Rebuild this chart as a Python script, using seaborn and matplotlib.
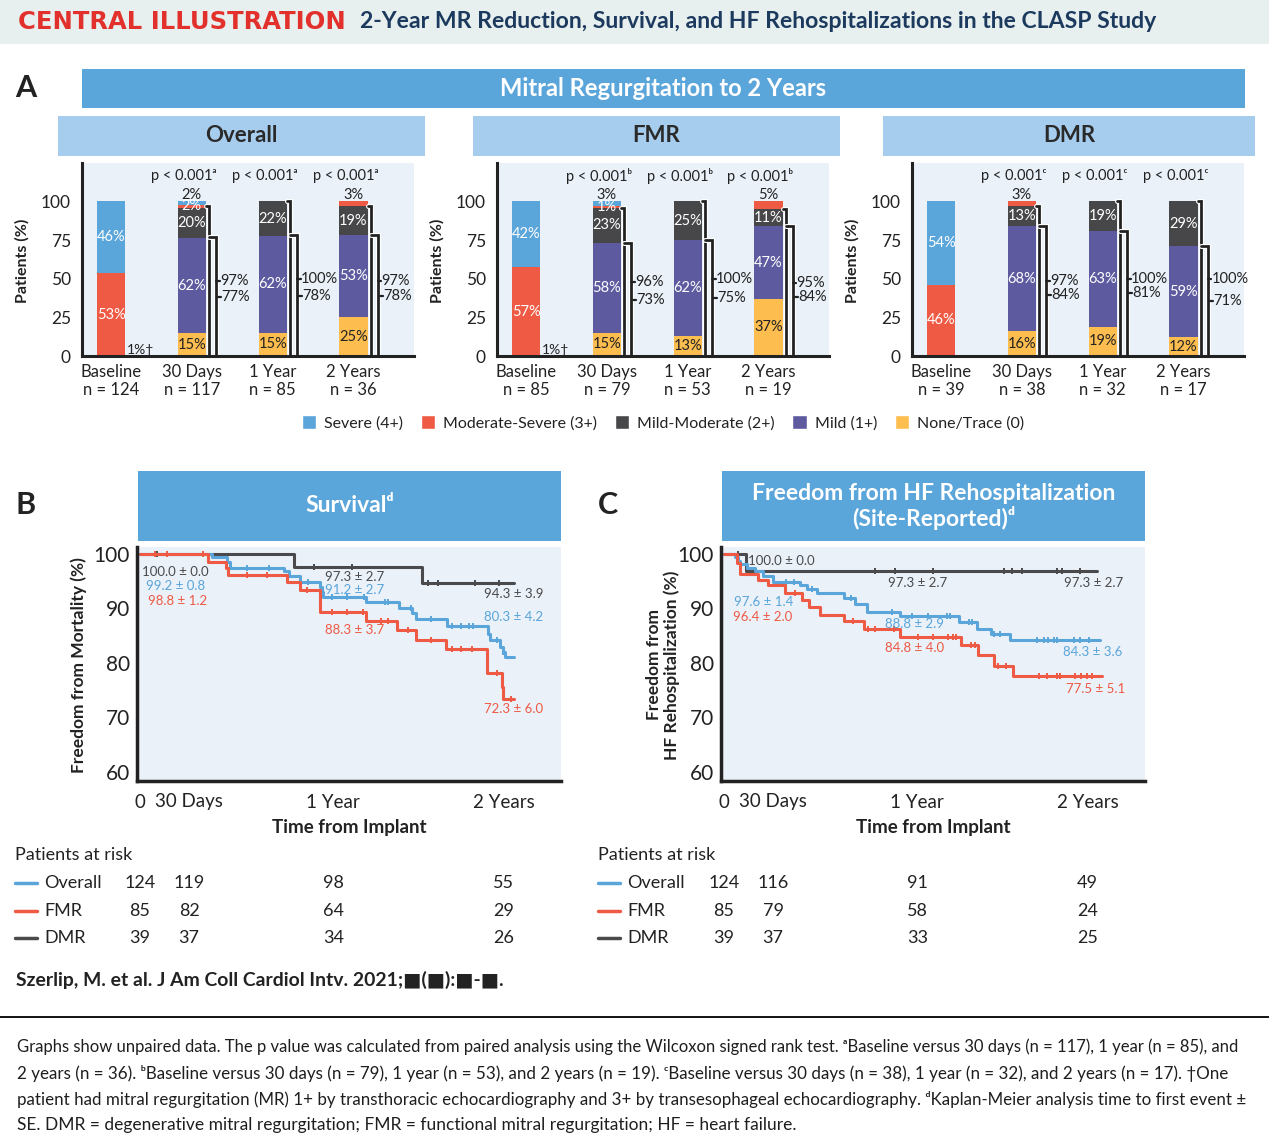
import matplotlib
matplotlib.use("Agg")
import matplotlib.pyplot as plt
import matplotlib.transforms as mtransforms
import matplotlib.patheffects as pe
from matplotlib.patches import Rectangle, Patch
import numpy as np
import seaborn as sns

W, H = 1269, 1140

# ---------------- Panel A: MR grade distribution (%), bottom -> top ----------------
visits = ["Baseline", "30 Days", "1 Year", "2 Years"]
grades = ["None/Trace (0)", "Mild (1+)", "Mild-Moderate (2+)", "Moderate-Severe (3+)", "Severe (4+)"]
grade_colors = ["#fdbd4f", "#5d5a9f", "#47474a", "#ee5a44", "#5aa5da"]

overall_none = [0, 15, 15, 25]
overall_mild = [0, 62, 62, 53]
overall_mildmod = [0, 20, 22, 19]
overall_modsev = [53, 2, 0, 3]
overall_severe = [46, 2, 0, 0]
overall_n = [124, 117, 85, 36]
overall_le2 = [97, 100, 97]
overall_le1 = [77, 78, 78]

fmr_none = [0, 15, 13, 37]
fmr_mild = [0, 58, 62, 47]
fmr_mildmod = [0, 23, 25, 11]
fmr_modsev = [57, 1, 0, 5]
fmr_severe = [42, 3, 0, 0]
fmr_n = [85, 79, 53, 19]
fmr_le2 = [96, 100, 95]
fmr_le1 = [73, 75, 84]

dmr_none = [0, 16, 19, 12]
dmr_mild = [0, 68, 63, 59]
dmr_mildmod = [0, 13, 19, 29]
dmr_modsev = [46, 3, 0, 0]
dmr_severe = [54, 0, 0, 0]
dmr_n = [39, 38, 32, 17]
dmr_le2 = [97, 100, 100]
dmr_le1 = [84, 81, 71]

p_sup = ["ᵃ", "ᵇ", "ᶜ"]
baseline_note = ["1%†", "1%†", ""]

# ---------------- Panels B/C: Kaplan-Meier curves (months, %) ----------------
surv_overall_t = [0, 4.74, 5.73, 5.95, 9.48, 9.81, 10.58, 11.9, 12.0, 12.1, 14.9, 17.1, 17.96, 18.2, 20.3, 23.0, 23.14, 23.8, 24.0, 24.1, 24.7]
surv_overall_v = [100, 99.4, 98.6, 97.4, 96.8, 96.0, 94.8, 94.0, 93.1, 92.2, 91.2, 90.0, 89.2, 88.0, 86.8, 85.4, 84.2, 83.0, 82.0, 81.1, 81.1]
surv_fmr_t = [0, 4.52, 5.66, 5.84, 9.70, 10.58, 11.9, 14.9, 16.97, 18.2, 20.2, 22.9, 23.9, 24.0, 24.7]
surv_fmr_v = [100, 98.6, 97.4, 96.2, 94.8, 93.4, 89.4, 87.7, 86.0, 84.3, 82.5, 78.1, 75.6, 73.3, 73.3]
surv_dmr_t = [0, 10.2, 18.6, 24.7]
surv_dmr_v = [100, 97.6, 94.7, 94.7]

surv_overall_cens = [7.05, 8.5, 11.1, 12.7, 13.7, 14.8, 16.2, 16.4, 17.9, 19.2, 20.6, 21.2, 21.7, 22.0, 23.6, 24.0]
surv_fmr_cens = [0.99, 1.76, 4.19, 7.05, 8.38, 11.0, 12.7, 13.7, 14.7, 15.9, 16.4, 17.7, 19.2, 20.6, 21.2, 21.9, 23.6, 24.5]
surv_dmr_cens = [1.1, 11.5, 14.0, 19.0, 19.7, 22.1, 23.7]

hf_overall_t = [0, 0.73, 0.95, 1.06, 1.5, 2.05, 2.6, 3.26, 5.02, 5.47, 6.13, 7.89, 8.66, 9.43, 11.64, 15.5, 16.7, 17.6, 18.9, 24.86]
hf_overall_v = [100, 99.5, 98.8, 98.2, 97.4, 96.8, 96.0, 94.9, 94.3, 93.5, 92.8, 91.9, 90.9, 89.4, 88.6, 87.6, 86.3, 85.4, 84.3, 84.3]
hf_fmr_t = [0, 0.84, 1.06, 2.27, 2.93, 4.03, 5.14, 5.58, 6.35, 7.93, 9.26, 11.64, 15.65, 16.8, 17.8, 19.1, 24.97]
hf_fmr_v = [100, 98.3, 96.4, 95.3, 94.3, 92.8, 91.5, 90.3, 88.8, 87.7, 86.3, 84.8, 83.3, 81.4, 79.4, 77.6, 77.6]
hf_dmr_t = [0, 1.45, 24.6]
hf_dmr_v = [100, 96.8, 96.8]

hf_overall_cens = [4.1, 4.6, 5.8, 8.4, 11.1, 12.4, 13.5, 14.7, 14.9, 16.2, 16.4, 17.8, 18.2, 20.7, 21.1, 21.4, 21.8, 22.0, 23.1, 23.5, 24.1]
hf_fmr_cens = [4.7, 8.5, 9.5, 10.0, 11.2, 12.8, 13.8, 14.8, 15.1, 15.3, 16.3, 16.6, 18.1, 18.6, 20.8, 21.3, 22.0, 22.2, 23.2, 23.6, 24.0, 24.3]
hf_dmr_cens = [0.95, 10.0, 11.3, 13.8, 18.5, 19.0, 19.7, 22.0, 22.3, 23.5]

km_ticks = [0, 3.24, 12.76, 24]
km_ticklabels = ["0", "30 Days", "1 Year", "2 Years"]

surv_notes = [
    (0.13, 96.7, "100.0 ± 0.0", "dmr"), (0.4, 94.1, "99.2 ± 0.8", "overall"), (0.53, 91.4, "98.8 ± 1.2", "fmr"),
    (12.23, 95.8, "97.3 ± 2.7", "dmr"), (12.23, 93.4, "91.2 ± 2.7", "overall"), (12.23, 86.0, "88.3 ± 3.7", "fmr"),
    (22.74, 92.6, "94.3 ± 3.9", "dmr"), (22.74, 88.4, "80.3 ± 4.2", "overall"), (22.74, 71.5, "72.3 ± 6.0", "fmr"),
]
hf_notes = [
    (1.61, 98.7, "100.0 ± 0.0", "dmr"), (10.8, 94.7, "97.3 ± 2.7", "dmr"), (22.48, 94.7, "97.3 ± 2.7", "dmr"),
    (0.68, 91.2, "97.6 ± 1.4", "overall"), (0.57, 88.4, "96.4 ± 2.0", "fmr"),
    (10.64, 87.1, "88.8 ± 2.9", "overall"), (10.64, 82.7, "84.8 ± 4.0", "fmr"),
    (22.39, 82.0, "84.3 ± 3.6", "overall"), (22.61, 75.2, "77.5 ± 5.1", "fmr"),
]

risk_groups = ["Overall", "FMR", "DMR"]
surv_risk = [[124, 119, 98, 55], [85, 82, 64, 29], [39, 37, 34, 26]]
hf_risk = [[124, 116, 91, 49], [85, 79, 58, 24], [39, 37, 33, 25]]

group_colors = {"overall": "#5aa5da", "fmr": "#ee5a44", "dmr": "#4a4a4c"}
INK = "#222222"
PANEL_BG = "#eaf1f9"

sns.set_theme(style="white")
plt.rcParams["font.family"] = ["Lato", "DejaVu Sans"]
plt.rcParams["text.color"] = INK

fig = plt.figure(figsize=(W / 100, H / 100), dpi=100)
renderer = fig.canvas.get_renderer()


def fx(px):
    return px / W


def fy(py):
    return 1 - py / H


def px_axes(x0, y0, x1, y1):
    return fig.add_axes([x0 / W, 1 - y1 / H, (x1 - x0) / W, (y1 - y0) / H])


def box(x0, y0, x1, y1, color):
    fig.add_artist(Rectangle((x0 / W, 1 - y1 / H), (x1 - x0) / W, (y1 - y0) / H,
                             transform=fig.transFigure, facecolor=color, edgecolor="none", zorder=0))


def fit(t, width):
    w = t.get_window_extent(renderer).width
    t.set_fontsize(t.get_fontsize() * width / w)
    return t


def banner(x0, y0, x1, y1, color, text, tcolor, width, size=15):
    box(x0, y0, x1, y1, color)
    t = fig.text(fx((x0 + x1) / 2), fy((y0 + y1) / 2), text, ha="center", va="center",
                 color=tcolor, weight="bold", fontsize=size, linespacing=1.1)
    if width:
        fit(t, width)
    return t


# header
box(0, 0, W, 44, "#e8f0ef")
fit(fig.text(fx(18), fy(22), "CENTRAL ILLUSTRATION", color="#e2312d", weight="bold", va="center",
             fontsize=14, family=["DejaVu Sans"]), 327)
fit(fig.text(fx(360), fy(22), "2-Year MR Reduction, Survival, and HF Rehospitalizations in the CLASP Study",
             color="#1c3a5e", weight="bold", va="center", fontsize=15), 798)

# ---------------- Panel A ----------------
fig.text(fx(15), fy(88), "A", fontsize=22, weight="bold", va="center")
banner(82, 69, 1245, 108, "#5aa5da", "Mitral Regurgitation to 2 Years", "white", 328)

panels = [
    ("Overall", 58, 425, 82, [overall_none, overall_mild, overall_mildmod, overall_modsev, overall_severe],
     overall_n, overall_le2, overall_le1),
    ("FMR", 473, 840, 497, [fmr_none, fmr_mild, fmr_mildmod, fmr_modsev, fmr_severe], fmr_n, fmr_le2, fmr_le1),
    ("DMR", 883, 1255, 912, [dmr_none, dmr_mild, dmr_mildmod, dmr_modsev, dmr_severe], dmr_n, dmr_le2, dmr_le1),
]
bracket_fx = [pe.Stroke(linewidth=3.6, foreground="white"), pe.Normal()]

for pi, (name, bx0, bx1, spine_x, segs, ns, le2, le1) in enumerate(panels):
    banner(bx0, 116, bx1, 156, "#a7cdee", name, "#2a2a2a", None, size=16)
    ax = px_axes(spine_x, 163, spine_x + 332, 356)
    ax.set_facecolor(PANEL_BG)
    arr = np.array(segs, dtype=float)
    share = arr / arr.sum(axis=0) * 100
    cum = share.cumsum(axis=0)
    for k in range(4, -1, -1):
        sns.barplot(x=visits, y=cum[k], color=grade_colors[k], width=0.35, saturation=1,
                    linewidth=0, errorbar=None, ax=ax)
    # segment labels
    for j in range(4):
        top_k = max(k for k in range(5) if arr[k, j] > 0)
        for k in range(5):
            if arr[k, j] <= 0:
                continue
            lo = cum[k - 1, j] if k > 0 else 0
            hi = cum[k, j]
            txt = f"{int(arr[k, j])}%"
            col = INK if k == 0 else "white"
            if arr[k, j] >= 6:
                ax.text(j, (lo + hi) / 2, txt, ha="center", va="center", color=col, fontsize=10.5)
            elif k == top_k:
                ax.text(j, 104.5, txt, ha="center", va="center", color=INK, fontsize=10.5)
            else:
                ax.text(j, (lo + hi) / 2, txt, ha="center", va="center", color="white", fontsize=10.5)
    # brackets for <=2+ and <=1+
    for j in range(1, 4):
        t1, t2 = le2[j - 1], le1[j - 1]
        e, b1, b2 = j + 0.175, j + 0.218, j + 0.30
        ax.plot([e, b1, b1], [t1, t1, 0], color=INK, lw=2, solid_joinstyle="miter", path_effects=bracket_fx)
        ax.plot([b1, b2, b2], [t2, t2, 0], color=INK, lw=2, solid_joinstyle="miter", path_effects=bracket_fx)
        y1 = t1 / 2
        y2 = min(t2 / 2, y1 - 9)
        for tv, yl, dx in ((t1, y1, 0.0), (t2, y2, 0.02)):
            ax.plot([b2 + dx, b2 + dx + 0.045], [yl, yl], color=INK, lw=1.6)
            ax.text(b2 + dx + 0.05, yl, f"{tv}%", ha="left", va="center", fontsize=10.5)
        ax.text(j - 0.1, 116.5, f"p < 0.001{p_sup[pi]}", ha="center", va="center", fontsize=10.5)
    if baseline_note[pi]:
        ax.text(0.2, 4, baseline_note[pi], ha="left", va="center", fontsize=10)
    ax.set_xlim(-0.36, 3.75)
    ax.set_ylim(0, 124.9)
    ax.set_yticks([0, 25, 50, 75, 100])
    ax.set_yticklabels(["0", "25", "50", "75", "100"], fontsize=12.5)
    ax.set_xticks(range(4))
    ax.set_xticklabels([f"{v}\nn = {n}" for v, n in zip(visits, ns)], fontsize=12, linespacing=1.15)
    ax.tick_params(length=0, colors=INK)
    ax.tick_params(axis="y", pad=8)
    ax.tick_params(axis="x", pad=6)
    ax.set_xlabel("")
    ax.set_ylabel("")
    for s in ("top", "right"):
        ax.spines[s].set_visible(False)
    for s in ("left", "bottom"):
        ax.spines[s].set_color(INK)
        ax.spines[s].set_linewidth(2.2)
    fig.text(fx(spine_x - 60), fy(261), "Patients (%)", rotation=90, ha="center", va="center",
             fontsize=11.5, weight="bold")

handles = [Patch(facecolor=grade_colors[k], label=grades[k]) for k in range(4, -1, -1)]
fig.legend(handles=handles, loc="center", bbox_to_anchor=(fx(663), fy(423)), ncol=5, frameon=False,
           fontsize=11.5, handlelength=0.9, handleheight=0.9, handletextpad=0.5, columnspacing=1.1)

# ---------------- Panels B and C ----------------
km_panels = [
    ("B", 15, 137, "Survivalᵈ",
     {"overall": (surv_overall_t, surv_overall_v, surv_overall_cens),
      "fmr": (surv_fmr_t, surv_fmr_v, surv_fmr_cens),
      "dmr": (surv_dmr_t, surv_dmr_v, surv_dmr_cens)},
     surv_notes, surv_risk, "Freedom from Mortality (%)"),
    ("C", 598, 721, "Freedom from HF Rehospitalization\n(Site-Reported)ᵈ",
     {"overall": (hf_overall_t, hf_overall_v, hf_overall_cens),
      "fmr": (hf_fmr_t, hf_fmr_v, hf_fmr_cens),
      "dmr": (hf_dmr_t, hf_dmr_v, hf_dmr_cens)},
     hf_notes, hf_risk, "Freedom from\nHF Rehospitalization (%)"),
]

for letter, lx, ax_x0, title, curves, notes, risk, ylab in km_panels:
    fig.text(fx(lx), fy(505), letter, fontsize=22, weight="bold", va="center")
    banner(ax_x0 + 1, 471, ax_x0 + 424, 541, "#5aa5da", title, "white", None, size=16.5)
    ax = px_axes(ax_x0, 547, ax_x0 + 424, 781)
    ax.set_facecolor(PANEL_BG)
    for key in ("dmr", "overall", "fmr"):
        t, v, cens = curves[key]
        sns.lineplot(x=t, y=v, drawstyle="steps-post", color=group_colors[key], lw=2.2,
                     estimator=None, sort=False, ax=ax)
        idx = np.searchsorted(t, cens, side="right") - 1
        ax.plot(cens, np.array(v)[idx], ls="none", marker="|", ms=4.5, mew=1.4, color=group_colors[key])
    for nx, ny, txt, key in notes:
        ax.text(nx, ny, txt, color=group_colors[key], fontsize=9.5, ha="left", va="center")
    ax.set_xlim(-0.2, 27.8)
    ax.set_ylim(58.3, 101.3)
    ax.set_yticks([60, 70, 80, 90, 100])
    ax.set_yticklabels(["60", "70", "80", "90", "100"], fontsize=15)
    ax.set_xticks(km_ticks)
    ax.set_xticklabels(km_ticklabels, fontsize=13.5)
    ax.tick_params(length=0, colors=INK)
    ax.tick_params(axis="y", pad=5)
    ax.tick_params(axis="x", pad=9)
    ax.set_xlabel("")
    ax.set_ylabel("")
    for s in ("top", "right"):
        ax.spines[s].set_visible(False)
    for s in ("left", "bottom"):
        ax.spines[s].set_color(INK)
        ax.spines[s].set_linewidth(2.5)
    fig.text(fx(ax_x0 - 58), fy(665), ylab, rotation=90, ha="center", va="center",
             fontsize=12.5, weight="bold", linespacing=1.15)
    fig.text(fx(ax_x0 + 212), fy(827), "Time from Implant", ha="center", va="center",
             fontsize=13.5, weight="bold")
    # patients at risk
    tab_x = lx
    fig.text(fx(tab_x), fy(855), "Patients at risk", ha="left", va="center", fontsize=13)
    blend = mtransforms.blended_transform_factory(ax.transData, fig.transFigure)
    for r, (grp, row_py) in enumerate(zip(risk_groups, [883, 911, 938])):
        col = group_colors[grp.lower()]
        fig.add_artist(plt.Line2D([fx(tab_x), fx(tab_x + 22)], [fy(row_py), fy(row_py)],
                                  color=col, lw=2.5, transform=fig.transFigure))
        fig.text(fx(tab_x + 29), fy(row_py), grp, ha="left", va="center", fontsize=13)
        for pos, val in zip(km_ticks, risk[r]):
            fig.text(pos, fy(row_py), str(val), transform=blend, ha="center", va="center", fontsize=13)

# citation and footnote
fit(fig.text(fx(16), fy(980), "Szerlip, M. et al. J Am Coll Cardiol Intv. 2021;■(■):■-■.",
             ha="left", va="center", weight="bold", fontsize=12), 484)
fig.add_artist(plt.Line2D([0, 1], [fy(1017), fy(1017)], color="black", lw=1.3, transform=fig.transFigure))

foot_lines = [
    ("Graphs show unpaired data. The p value was calculated from paired analysis using the Wilcoxon signed rank test. "
     "ᵃBaseline versus 30 days (n = 117), 1 year (n = 85), and", 1223),
    ("2 years (n = 36). ᵇBaseline versus 30 days (n = 79), 1 year (n = 53), and 2 years (n = 19). "
     "ᶜBaseline versus 30 days (n = 38), 1 year (n = 32), and 2 years (n = 17). †One", 1218),
    ("patient had mitral regurgitation (MR) 1+ by transthoracic echocardiography and 3+ by transesophageal "
     "echocardiography. ᵈKaplan-Meier analysis time to first event ±", 1223),
    ("SE. DMR = degenerative mitral regurgitation; FMR = functional mitral regurgitation; HF = heart failure.", 778),
]
for (line, width), py in zip(foot_lines, [1047, 1073, 1099, 1125]):
    fit(fig.text(fx(17), fy(py), line, ha="left", va="center", fontsize=11.5, color="#1e1e1e"), width)

fig.savefig("out.png", dpi=100)
